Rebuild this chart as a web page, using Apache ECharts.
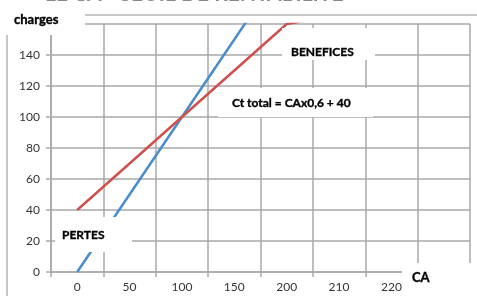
<!DOCTYPE html>
<html>
<head>
<meta charset="utf-8">
<script src="https://cdn.jsdelivr.net/npm/echarts@6/dist/echarts.min.js"></script>
<style>
  html, body { margin: 0; padding: 0; background: #fff; }
  #chart { width: 477px; height: 296px; }
</style>
</head>
<body>
<div id="chart"></div>
<script>
// CA categories (last one hidden under the "CA" box)
const categories = ['0', '50', '100', '150', '200', '210', '220', '230'];
// blue : chiffre d'affaires
const caValues = [0, 50, 100, 150, 200, 210, 220, 230];
// red : Ct total = CA x 0,6 + 40
const ctValues = [40, 70, 100, 130, 160, 166, 172, 178];
const yTicks = { min: 0, max: 160, interval: 20 };

const chart = echarts.init(document.getElementById('chart'));
const gridColor = '#a9a9a9';
const font = 'Lato';

// white text boxes drawn over the chart, like the slide shapes
function box(x, y, w, h, text, tx, ty, size) {
  return {
    type: 'group',
    z: 100,
    children: [
      { type: 'rect', shape: { x: x, y: y, width: w, height: h }, style: { fill: '#fff' }, z: 100 },
      {
        type: 'text', x: tx, y: ty, z: 101,
        style: {
          text: text, fill: '#000', fontWeight: 'bold', fontSize: size,
          fontFamily: font, verticalAlign: 'middle',
          stroke: '#000', lineWidth: 0.35
        }
      }
    ]
  };
}

chart.setOption({
  animation: false,
  grid: { left: 51, right: 7, top: 24, bottom: 24, containLabel: false },
  xAxis: {
    type: 'category',
    data: categories,
    boundaryGap: true,
    axisLine: { lineStyle: { color: gridColor, width: 1.5 } },
    axisTick: { show: true, length: 5, lineStyle: { color: gridColor, width: 1.5 } },
    axisLabel: { color: '#333', fontSize: 12, fontFamily: font, margin: 9 },
    splitLine: { show: true, lineStyle: { color: gridColor, width: 1.5 } }
  },
  yAxis: {
    type: 'value',
    min: yTicks.min,
    max: yTicks.max,
    interval: yTicks.interval,
    axisLine: { show: true, lineStyle: { color: gridColor, width: 1.5 } },
    axisTick: { show: true, length: 5, lineStyle: { color: gridColor, width: 1.5 } },
    axisLabel: { color: '#333', fontSize: 12, fontFamily: font, margin: 11 },
    splitLine: { show: true, lineStyle: { color: gridColor, width: 1.5 } }
  },
  series: [
    {
      name: 'CA', type: 'line', data: caValues, symbol: 'none', clip: true,
      lineStyle: { color: '#4a8dcc', width: 2.5 }
    },
    {
      name: 'Ct total', type: 'line', data: ctValues, symbol: 'none', clip: true,
      lineStyle: { color: '#cf504d', width: 2.5 }
    }
  ],
  graphic: [
    // chart area border of the pasted chart
    {
      type: 'rect', z: 50,
      shape: { x: 7, y: 15, width: 600, height: 400 },
      style: { fill: 'none', stroke: '#b5b5b5', lineWidth: 1.5 }
    },
    // slide title, cut off at the top
    {
      type: 'text', x: 45, y: -16, z: 60,
      style: { text: 'LE CA - SEUIL DE RENTABILITE', fill: '#888', fontWeight: 'bold', fontSize: 21, fontFamily: font }
    },
    box(0, 4, 85, 31, 'charges', 14, 20, 13),
    box(282, 28, 93, 32, 'BENEFICES', 291, 52, 12),
    box(218, 88, 155, 29, 'Ct total = CAx0,6 + 40', 232, 103, 12),
    box(55, 217, 77, 35, 'PERTES', 62, 235, 12),
    box(402, 263, 80, 40, 'CA', 412, 278, 13)
  ]
});
</script>
</body>
</html>
